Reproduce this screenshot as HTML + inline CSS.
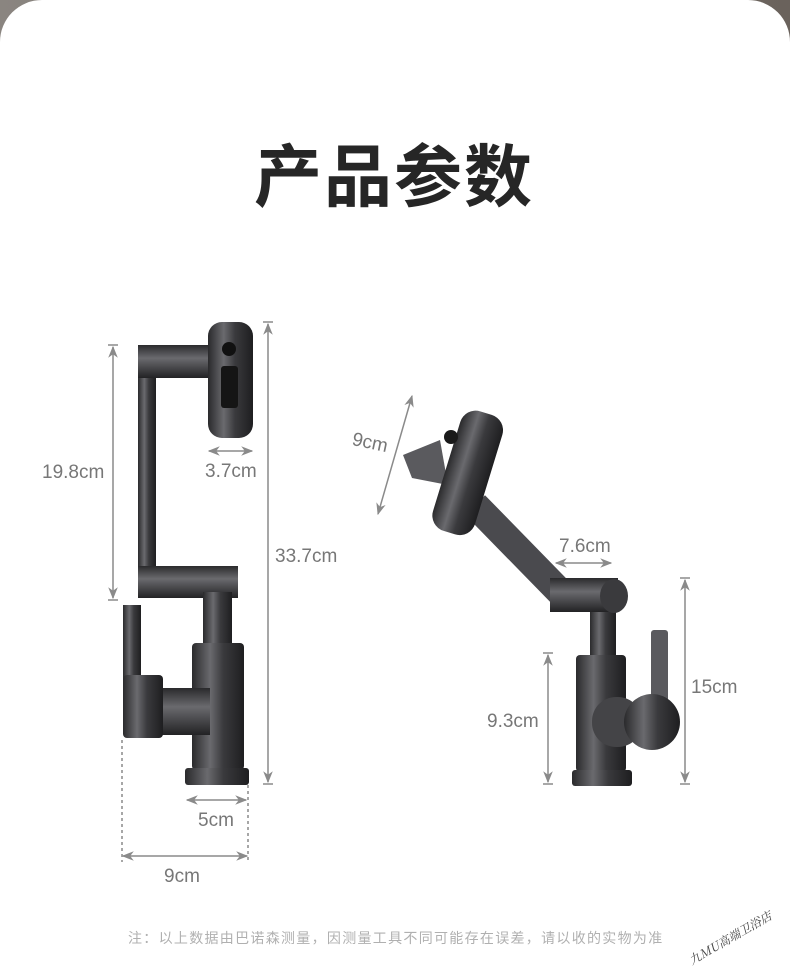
<!DOCTYPE html>
<html><head><meta charset="utf-8"><style>
html,body{margin:0;padding:0}
body{width:790px;height:976px;position:relative;overflow:hidden;background:linear-gradient(90deg,#8a8580,#6a625c);font-family:"Liberation Sans","Noto Sans CJK SC",sans-serif}
.card{position:absolute;left:0;top:0;width:790px;height:976px;background:#fff;border-radius:42px 42px 0 0}
</style></head><body>
<div class="card"></div>
<svg width="790" height="976" style="position:absolute;left:0;top:0" xmlns="http://www.w3.org/2000/svg">
<defs>
<linearGradient id="mh" x1="0" x2="1" y1="0" y2="0"><stop offset="0" stop-color="#2a2a2c"/><stop offset="0.35" stop-color="#6a6a6e"/><stop offset="0.6" stop-color="#3a3a3d"/><stop offset="1" stop-color="#1e1e20"/></linearGradient>
<linearGradient id="mv" x1="0" x2="0" y1="0" y2="1"><stop offset="0" stop-color="#2a2a2c"/><stop offset="0.4" stop-color="#6a6a6e"/><stop offset="1" stop-color="#222224"/></linearGradient>
<marker id="ar" viewBox="0 0 10 10" refX="9" refY="5" markerWidth="8" markerHeight="8" orient="auto-start-reverse"><path d="M0,1 L10,5 L0,9 L3,5z" fill="#8a8a8a"/></marker>
</defs>
<text x="394" y="201" text-anchor="middle" font-family="'Noto Sans CJK SC',sans-serif" font-weight="bold" font-size="68" fill="#262626" letter-spacing="2">产品参数</text>

<!-- LEFT FAUCET -->
<g>
<rect x="138" y="345" width="18" height="253" fill="url(#mh)"/>
<rect x="138" y="345" width="74" height="33" fill="url(#mv)"/>
<rect x="208" y="322" width="45" height="116" rx="14" fill="url(#mh)"/>
<circle cx="229" cy="349" r="7" fill="#111"/>
<rect x="221" y="366" width="17" height="42" rx="3" fill="#151515"/>
<rect x="138" y="566" width="100" height="32" fill="url(#mv)"/>
<rect x="203" y="592" width="29" height="54" fill="url(#mh)"/>
<rect x="192" y="643" width="52" height="127" rx="4" fill="url(#mh)"/>
<rect x="185" y="768" width="64" height="17" rx="3" fill="url(#mh)"/>
<rect x="123" y="605" width="18" height="78" fill="url(#mh)"/>
<rect x="160" y="688" width="50" height="47" fill="url(#mv)"/>
<rect x="123" y="675" width="40" height="63" rx="4" fill="url(#mh)"/>
</g>
<g stroke="#8a8a8a" stroke-width="1.5" fill="none">
<line x1="113" y1="347" x2="113" y2="598" marker-start="url(#ar)" marker-end="url(#ar)"/>
<line x1="108" y1="345" x2="118" y2="345"/><line x1="108" y1="600" x2="118" y2="600"/>
<line x1="268" y1="324" x2="268" y2="782" marker-start="url(#ar)" marker-end="url(#ar)"/>
<line x1="263" y1="322" x2="273" y2="322"/><line x1="263" y1="784" x2="273" y2="784"/>
<line x1="209" y1="451" x2="252" y2="451" marker-start="url(#ar)" marker-end="url(#ar)"/>
<line x1="187" y1="800" x2="246" y2="800" marker-start="url(#ar)" marker-end="url(#ar)"/>
<line x1="123" y1="856" x2="247" y2="856" marker-start="url(#ar)" marker-end="url(#ar)"/>
<line x1="122" y1="740" x2="122" y2="862" stroke-dasharray="3,3"/>
<line x1="248" y1="785" x2="248" y2="862" stroke-dasharray="3,3"/>
</g>
<g font-size="19" fill="#777">
<text x="42" y="478">19.8cm</text>
<text x="205" y="477">3.7cm</text>
<text x="275" y="562">33.7cm</text>
<text x="198" y="826">5cm</text>
<text x="164" y="882">9cm</text>
</g>

<!-- RIGHT FAUCET -->
<g>
<line x1="475" y1="505" x2="560" y2="592" stroke="#4a4a4e" stroke-width="28"/>
<polygon points="403,455 440,440 448,485 412,478" fill="#5a5a5e"/>
<g transform="rotate(17 466 475)"><rect x="445" y="410" width="44" height="125" rx="16" fill="url(#mh)"/></g>
<circle cx="451" cy="437" r="7" fill="#1a1a1a"/>
<rect x="590" y="608" width="26" height="50" fill="url(#mh)"/>
<rect x="550" y="578" width="68" height="34" fill="url(#mv)"/>
<ellipse cx="614" cy="596" rx="14" ry="17" fill="#3a3a3d"/>
<rect x="576" y="655" width="50" height="117" rx="4" fill="url(#mh)"/>
<rect x="572" y="770" width="60" height="16" rx="3" fill="url(#mh)"/>
<rect x="651" y="630" width="17" height="90" rx="3" fill="#5a5a5e"/>
<rect x="592" y="697" width="50" height="50" rx="24" fill="#444447"/>
<circle cx="652" cy="722" r="28" fill="url(#mh)"/>
</g>
<g stroke="#8a8a8a" stroke-width="1.5" fill="none">
<line x1="412" y1="396" x2="378" y2="514" marker-start="url(#ar)" marker-end="url(#ar)"/>
<line x1="556" y1="563" x2="611" y2="563" marker-start="url(#ar)" marker-end="url(#ar)"/>
<line x1="685" y1="580" x2="685" y2="782" marker-start="url(#ar)" marker-end="url(#ar)"/>
<line x1="680" y1="578" x2="690" y2="578"/><line x1="680" y1="784" x2="690" y2="784"/>
<line x1="548" y1="655" x2="548" y2="782" marker-start="url(#ar)" marker-end="url(#ar)"/>
<line x1="543" y1="653" x2="553" y2="653"/><line x1="543" y1="784" x2="553" y2="784"/>
</g>
<g font-size="19" fill="#777">
<text x="352" y="449" transform="rotate(12 372 443)">9cm</text>
<text x="559" y="552">7.6cm</text>
<text x="691" y="693">15cm</text>
<text x="487" y="727">9.3cm</text>
</g>
<text x="128" y="943" font-size="14" letter-spacing="1.3" fill="#b0b0b0" font-family="'Liberation Sans','Noto Sans CJK SC',sans-serif">注：以上数据由巴诺森测量，因测量工具不同可能存在误差，请以收的实物为准</text>
<text x="692" y="965" font-size="12" fill="#444" font-family="'Noto Serif CJK SC',serif" font-style="italic" transform="rotate(-30 692 965)">九MU高端卫浴店</text>
</svg>
</body></html>
